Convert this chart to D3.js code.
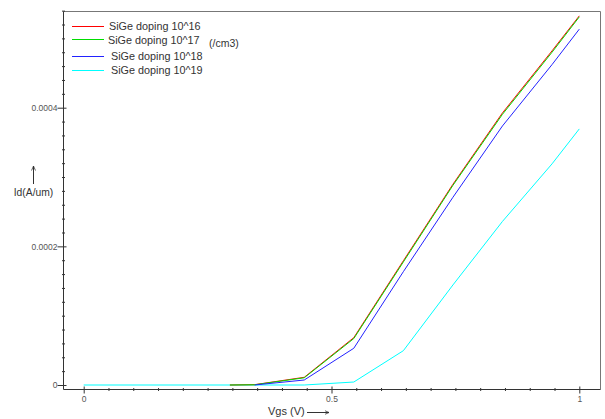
<!DOCTYPE html>
<html>
<head>
<meta charset="utf-8">
<script src="https://cdn.jsdelivr.net/npm/d3@7"></script>
<style>
  html, body { margin: 0; padding: 0; background: #fff; }
  svg { display: block; font-family: "Liberation Sans", Arial, sans-serif; }
</style>
</head>
<body>
<svg id="chart" width="605" height="419"></svg>
<script>
// Gate voltage sweep points (V)
const vgs = [0, 0.295, 0.345, 0.445, 0.545, 0.645, 0.745, 0.845, 0.945, 1.0];

// Drain current Id (A/um) per SiGe doping level; null = not simulated
const id16 = [null, 0, 0.0000005, 0.0000111, 0.0000683, 0.0001792, 0.0002896, 0.0003925, 0.000482, 0.0005325];
const id17 = [null, 0, 0.0000003, 0.0000104, 0.0000670, 0.0001775, 0.0002880, 0.0003905, 0.000480, 0.0005310];
const id18 = [null, null, 0, 0.0000072, 0.0000530, 0.0001635, 0.0002708, 0.0003737, 0.0004622, 0.0005133];
const id19 = [0, 0, 0, 0, 0.0000043, 0.0000495, 0.0001443, 0.0002360, 0.000319, 0.0003694];

const seriesNames = ["SiGe doping 10^16", "SiGe doping 10^17", "SiGe doping 10^18", "SiGe doping 10^19"];
const seriesColors = ["#ff0000", "#00dd00", "#2222ff", "#00ffff"];
const seriesValues = [id16, id17, id18, id19];

const xMajorTicks = [0, 0.5, 1];
const xTickLabels = ["0", "0.5", "1"];
const yMajorTicks = [0, 0.0002, 0.0004];
const yTickLabels = ["0", "0.0002", "0.0004"];

const svg = d3.select("#chart");

// Plot frame
const frame = { left: 63.5, right: 600.5, top: 11.5, bottom: 389.5 };

const x = d3.scaleLinear().domain([0, 1]).range([83.7, 579.3]);
const y = d3.scaleLinear().domain([0, 0.0004]).range([385, 107.7]);

// top and right borders
svg.append("path")
  .attr("d", `M${frame.left},${frame.top}H${frame.right}V${frame.bottom}`)
  .attr("fill", "none").attr("stroke", "#777").attr("stroke-width", 1);

// Minor + major tick values
const xMinor = d3.range(0, 21).map(i => i * 0.05);
const yMinor = d3.range(0, 28).map(i => i * 0.00002);

// X axis
const xAxisG = svg.append("g").attr("transform", `translate(0,${frame.bottom})`)
  .call(d3.axisBottom(x).tickValues(xMinor).tickSizeOuter(0).tickFormat(""));
xAxisG.select(".domain").remove();
xAxisG.selectAll(".tick line")
  .attr("y1", d => xMajorTicks.some(t => Math.abs(t - d) < 1e-9) ? -3 : -1.5)
  .attr("y2", d => xMajorTicks.some(t => Math.abs(t - d) < 1e-9) ? 4 : 1.5)
  .attr("stroke", "#333");
xAxisG.selectAll(".tick text").remove();

const xLab = svg.append("g").attr("transform", `translate(0,${frame.bottom})`)
  .call(d3.axisBottom(x).tickValues(xMajorTicks).tickSize(0)
    .tickFormat((d, i) => xTickLabels[i]));
xLab.select(".domain").remove();
xLab.selectAll(".tick text").attr("dy", null).attr("y", 12.5)
  .attr("font-size", "8.5px").attr("fill", "#555").attr("font-family", null);

// Y axis
const yAxisG = svg.append("g").attr("transform", `translate(${frame.left},0)`)
  .call(d3.axisLeft(y).tickValues(yMinor).tickSizeOuter(0).tickFormat(""));
yAxisG.select(".domain").remove();
yAxisG.selectAll(".tick line")
  .attr("x1", d => yMajorTicks.some(t => Math.abs(t - d) < 1e-12) ? -6 : -1.5)
  .attr("x2", d => yMajorTicks.some(t => Math.abs(t - d) < 1e-12) ? 3 : 1.5)
  .attr("stroke", "#333");
yAxisG.selectAll(".tick text").remove();

const yLab = svg.append("g").attr("transform", `translate(${frame.left},0)`)
  .call(d3.axisLeft(y).tickValues(yMajorTicks).tickSize(0)
    .tickFormat((d, i) => yTickLabels[i]));
yLab.select(".domain").remove();
yLab.selectAll(".tick text").attr("x", -6).attr("dy", "0.32em")
  .attr("font-size", "8.5px").attr("fill", "#555").attr("font-family", null);

// Axis lines (left and bottom)
svg.append("path")
  .attr("d", `M${frame.left},${frame.top}V${frame.bottom}H${frame.right}`)
  .attr("fill", "none").attr("stroke", "#333").attr("stroke-width", 1);

// Curves: cyan underneath, then red, green, blue
const line = d3.line()
  .defined(d => d[1] != null)
  .x(d => x(d[0]))
  .y(d => y(d[1]));

const drawOrder = [3, 0, 1, 2];
drawOrder.forEach(k => {
  const pts = vgs.map((v, i) => [v, seriesValues[k][i]]);
  svg.append("path")
    .datum(pts)
    .attr("d", line)
    .attr("fill", "none")
    .attr("stroke", seriesColors[k])
    .attr("stroke-width", 1);
});

// Legend
const legendRows = [26, 39, 56, 70];
const legendTextX = [109, 108, 111, 111];
const legend = svg.append("g");
seriesNames.forEach((name, i) => {
  legend.append("line")
    .attr("x1", 72).attr("x2", 104)
    .attr("y1", legendRows[i] + 0.5).attr("y2", legendRows[i] + 0.5)
    .attr("stroke", seriesColors[i]).attr("stroke-width", 1);
  legend.append("text")
    .attr("x", legendTextX[i]).attr("y", legendRows[i] + (i === 1 ? 1 : 0))
    .attr("dy", "0.35em")
    .attr("font-size", "10.8px").attr("fill", "#333")
    .text(name);
});
legend.append("text")
  .attr("x", 209).attr("y", 43).attr("dy", "0.35em")
  .attr("font-size", "10.5px").attr("fill", "#333")
  .text("(/cm3)");

// Arrow marker for axis titles
const defs = svg.append("defs");
defs.append("marker")
  .attr("id", "arr").attr("viewBox", "0 0 10 10")
  .attr("refX", 9).attr("refY", 5)
  .attr("markerWidth", 5).attr("markerHeight", 5)
  .attr("orient", "auto")
  .append("path").attr("d", "M0,1L9,5L0,9").attr("fill", "none")
  .attr("stroke", "#333").attr("stroke-width", 1.5);

// Y title
svg.append("text")
  .attr("x", 33.5).attr("y", 195.5).attr("text-anchor", "middle")
  .attr("font-size", "10.3px").attr("fill", "#333")
  .text("Id(A/um)");
svg.append("line")
  .attr("x1", 33.5).attr("x2", 33.5).attr("y1", 184).attr("y2", 166)
  .attr("stroke", "#333").attr("stroke-width", 1)
  .attr("marker-end", "url(#arr)");

// X title
svg.append("text")
  .attr("x", 268).attr("y", 415).attr("text-anchor", "start")
  .attr("font-size", "11px").attr("fill", "#333")
  .text("Vgs (V)");
svg.append("line")
  .attr("x1", 307).attr("x2", 329).attr("y1", 412.5).attr("y2", 412.5)
  .attr("stroke", "#333").attr("stroke-width", 1)
  .attr("marker-end", "url(#arr)");
</script>
</body>
</html>
